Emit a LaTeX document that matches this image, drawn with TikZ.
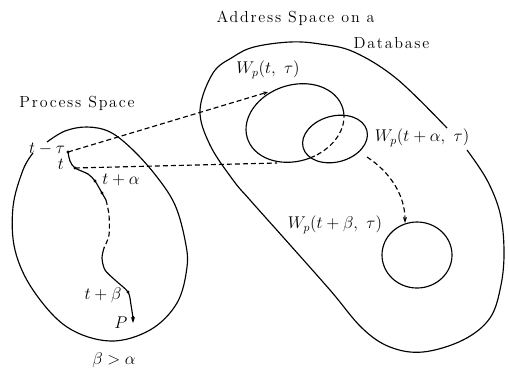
\documentclass[tikz,border=0pt]{standalone}
\usepackage{fontspec}
\newfontfamily\ttlfont{lmroman12-regular.otf}[LetterSpace=11]
\usetikzlibrary{arrows.meta}
\begin{document}
\begin{tikzpicture}[x=1pt,y=-1pt, line width=1.15pt,
  lbl/.style={inner sep=0pt, font=\fontsize{14.4}{17}\selectfont, scale=1.18, transform shape},
  ttl/.style={inner sep=0pt, font=\ttlfont\fontsize{16}{19}\selectfont},
  dsh/.style={dash pattern=on 5pt off 3pt},
  pt/.style={circle, fill, inner sep=0pt, minimum size=3.4pt}]
\useasboundingbox (0,0) rectangle (508,368);

% titles
\node[ttl] (ps) at (77,103) {Process Space};
\node[ttl, anchor=west] (as1) at (216,18) {Address Space on a};
\node[ttl, anchor=west] (as2) at (353,43) {Database};

% math labels
\node[lbl] (w1) at (268,70) {$W_p(t,\ \tau)$};
\node[lbl] (w2) at (422,138) {$W_p(t+\alpha,\ \tau)$};
\node[lbl] (w3) at (335,225) {$W_p(t+\beta,\ \tau)$};
\node[lbl] (ltau) at (47,149) {$t-\tau$};
\node[lbl] (lt) at (61,164) {$t$};
\node[lbl] (la) at (121,180) {$t+\alpha$};
\node[lbl] (lb) at (103,295) {$t+\beta$};
\node[lbl] (lp) at (121,323) {$P$};
\node[lbl] (cond) at (114,360) {$\beta > \alpha$};

% process space blob
\draw plot[smooth, tension=0.6] coordinates {(47,142) (65,131) (87,127) (110,132) (133,150) (157,177) (175,205) (185,240) (187,267) (177,303) (150,330) (110,341) (67,327) (33,290) (15,250) (13,207) (23,170) (33,153)};

% address space blob
\draw plot[smooth, tension=0.6] coordinates {(467,150) (487,180) (500,213) (504,250) (501,285) (490,318) (463,340) (423,352) (390,347) (362,328) (330,290) (283,237) (250,200) (233,180) (210,145) (200,110) (213,73) (233,57) (254,47) (290,42) (320,44) (354,52) (397,79) (447,128)};

% process path
\coordinate (p0) at (68,152);
\coordinate (p1) at (75,168);
\coordinate (p2) at (95,181);
\coordinate (p3) at (102,193);
\coordinate (p6) at (128,292);
\coordinate (pe) at (133,323);
\draw plot[smooth] coordinates {(68,152) (70,161) (75,168) (88,174) (95,181) (102,193) (106,200)};
\draw[dsh] plot[smooth] coordinates {(106,200) (109,215) (109,235) (104,248)};
\draw plot[smooth] coordinates {(104,248) (102,258) (105,270) (115,280) (128,292) (131,305) (133,318)};
\draw[-{Stealth[length=6pt,width=4pt]}] (133,316) -- (pe);
\foreach \p in {p0,p1,p2,p3,p6} \node[pt] at (\p) {};

% working set ellipses
\begin{scope}[shift={(295,123)}, rotate=18]
  \draw (80:50 and 38) arc[start angle=80, end angle=368, x radius=50, y radius=38];
  \draw[dsh] (8:50 and 38) arc[start angle=8, end angle=80, x radius=50, y radius=38];
\end{scope}
\draw[shift={(335,139)}, rotate=15] (0,0) ellipse[x radius=33, y radius=23];
\draw (417,255) ellipse[x radius=35, y radius=33];

% connectors
\coordinate (e1a) at (268,92);
\coordinate (e1b) at (277,163);
\coordinate (e2b) at (367,157);
\coordinate (c3) at (405,223);
\draw[dsh, -{Stealth[length=5pt,width=4pt]}] (p0) -- (e1a);
\draw[dsh] (p1) -- (e1b);
\draw[dsh, -{Stealth[length=6pt,width=4pt]}] (e2b) .. controls (390,172) and (405,195) .. (c3);
\end{tikzpicture}
\end{document}
